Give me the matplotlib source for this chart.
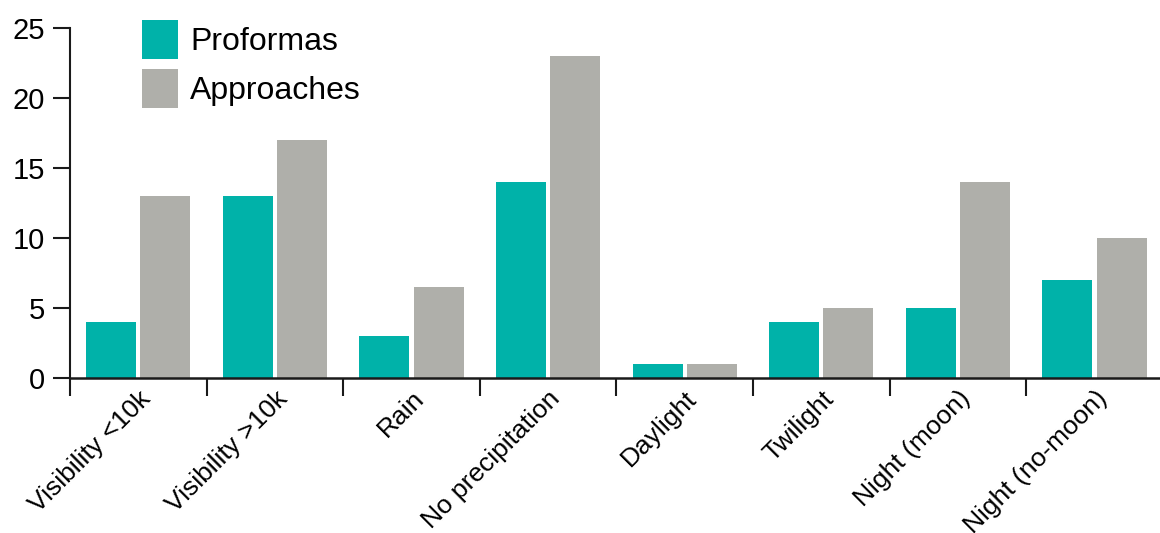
import numpy as np
import matplotlib
matplotlib.use("Agg")
import matplotlib.pyplot as plt
from matplotlib.ticker import FixedLocator
from matplotlib.transforms import ScaledTranslation

plt.rcParams['font.family'] = ['Liberation Sans', 'DejaVu Sans']

categories = ["Visibility <10k", "Visibility >10k", "Rain", "No precipitation",
              "Daylight", "Twilight", "Night (moon)", "Night (no-moon)"]
proformas = [4, 13, 3, 14, 1, 4, 5, 7]
approaches = [13, 17, 6.5, 23, 1, 5, 14, 10]
yticks = [0, 5, 10, 15, 20, 25]

teal = "#00b2a9"
gray = "#afafaa"

fig = plt.figure(figsize=(11.6, 5.33), dpi=100)
ax = fig.add_axes([70/1160, 155/533, 1 - 70/1160, 350/533])

x = np.arange(len(categories))
w = 0.366
off = 0.198
b1 = ax.bar(x - off, proformas, w, color=teal, label="Proformas")
b2 = ax.bar(x + off, approaches, w, color=gray, label="Approaches")

ax.set_ylim(0, 25)
ax.set_xlim(-0.5, (1160 - 70) / 136.6 - 0.5)
ax.set_yticks(yticks)
ax.set_yticklabels([str(t) for t in yticks], fontsize=21)

ax.set_xticks(x)
labels = ax.set_xticklabels(categories, fontsize=19, rotation=45, ha='right',
                            va='top', rotation_mode='anchor')
shift = ScaledTranslation(14/100, 0, fig.dpi_scale_trans)
for lab in labels:
    lab.set_transform(lab.get_transform() + shift)
ax.tick_params(axis='x', which='major', length=0, pad=6)
ax.xaxis.set_minor_locator(FixedLocator(np.arange(-0.5, len(categories) - 0.5, 1.0)))
ax.tick_params(axis='x', which='minor', length=13, width=1.5, color='#1a1a1a')
ax.tick_params(axis='y', length=12, width=1.5, color='#1a1a1a', pad=6)

for s in ['top', 'right']:
    ax.spines[s].set_visible(False)
ax.spines['left'].set_linewidth(1.5)
ax.spines['bottom'].set_linewidth(1.8)
ax.spines['left'].set_color('#1a1a1a')
ax.spines['bottom'].set_color('#1a1a1a')

leg = ax.legend(handles=[b1, b2], loc='upper left',
                bbox_to_anchor=(142/1160, 1 - 20/533), bbox_transform=fig.transFigure,
                frameon=False, fontsize=23, handlelength=1.13, handleheight=1.5,
                handletextpad=0.38, labelspacing=0.3, borderpad=0, borderaxespad=0)

fig.savefig("out.png", dpi=100)
